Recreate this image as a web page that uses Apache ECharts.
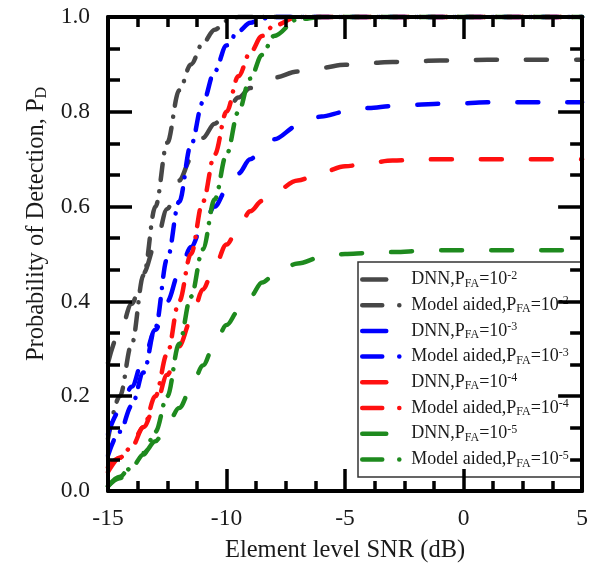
<!DOCTYPE html>
<html>
<head>
<meta charset="utf-8">
<script src="https://cdn.jsdelivr.net/npm/echarts@6/dist/echarts.min.js"></script>
<style>
  html, body { margin: 0; padding: 0; background: #ffffff; }
  #chart { width: 591px; height: 579px; }
</style>
</head>
<body>
<div id="chart"></div>
<script>
// Element-level SNR sample points (dB)
const snr = [-15, -14.5, -14, -13.5, -13, -12.5, -12, -11.5, -11, -10.5, -10, -9.5, -9, -8.5, -8,
             -7, -6, -5, -4, -3, -2, -1, 0, 1, 2, 3, 4, 5];

// Probability of detection, DNN detector
const dnnPfa2 = [0.27, 0.335, 0.395, 0.46, 0.52, 0.595, 0.655, 0.70, 0.745, 0.775, 0.80, 0.83, 0.85, 0.862, 0.872,
                 0.885, 0.893, 0.899, 0.903, 0.905, 0.907, 0.908, 0.909, 0.91, 0.91, 0.91, 0.91, 0.91];
const dnnPfa3 = [0.12, 0.17, 0.22, 0.28, 0.34, 0.40, 0.46, 0.515, 0.56, 0.60, 0.635, 0.67, 0.70, 0.72, 0.742,
                 0.77, 0.79, 0.80, 0.808, 0.812, 0.815, 0.817, 0.818, 0.82, 0.82, 0.82, 0.82, 0.82];
const dnnPfa4 = [0.04, 0.07, 0.10, 0.135, 0.18, 0.245, 0.305, 0.36, 0.425, 0.475, 0.52, 0.555, 0.59, 0.612, 0.63,
                 0.655, 0.672, 0.685, 0.692, 0.697, 0.699, 0.70, 0.70, 0.70, 0.70, 0.70, 0.70, 0.70];
const dnnPfa5 = [0.01, 0.03, 0.055, 0.08, 0.105, 0.14, 0.175, 0.215, 0.265, 0.31, 0.35, 0.38, 0.41, 0.44, 0.455,
                 0.48, 0.493, 0.50, 0.502, 0.504, 0.506, 0.508, 0.508, 0.508, 0.508, 0.508, 0.508, 0.508];

// Probability of detection, model-aided detector
const maPfa2 = [0.11, 0.20, 0.31, 0.455, 0.60, 0.735, 0.845, 0.90, 0.945, 0.973, 0.992, 1, 1, 1, 1,
                1, 1, 1, 1, 1, 1, 1, 1, 1, 1, 1, 1, 1];
const maPfa3 = [0.075, 0.125, 0.18, 0.25, 0.345, 0.49, 0.61, 0.73, 0.82, 0.885, 0.94, 0.97, 0.988, 0.997, 1,
                1, 1, 1, 1, 1, 1, 1, 1, 1, 1, 1, 1, 1];
const maPfa4 = [0.05, 0.07, 0.093, 0.135, 0.20, 0.29, 0.40, 0.50, 0.61, 0.71, 0.80, 0.875, 0.925, 0.96, 0.982,
                1, 1, 1, 1, 1, 1, 1, 1, 1, 1, 1, 1, 1];
const maPfa5 = [0.01, 0.027, 0.05, 0.077, 0.125, 0.20, 0.31, 0.41, 0.51, 0.615, 0.71, 0.80, 0.87, 0.92, 0.96,
                0.995, 1, 1, 1, 1, 1, 1, 1, 1, 1, 1, 1, 1];

// False-alarm exponents and colours per curve pair
const pfaExponents = ['-2', '-3', '-4', '-5'];
const curveColors = ['#474747', '#0000ff', '#ff1010', '#1e8a1e'];
const dnnCurves = [dnnPfa2, dnnPfa3, dnnPfa4, dnnPfa5];
const maCurves = [maPfa2, maPfa3, maPfa4, maPfa5];

const SERIF = '"Liberation Serif", "Times New Roman", serif';
const INK = '#1a1a1a';

const DNN_DASH = [21, 29];
const MA_DASH = [16, 11, 0.1, 11];

const series = [];
const legendData = [];
const legendRich = {};
pfaExponents.forEach((exp, i) => {
  const color = curveColors[i];
  const dnnName = 'DNN,PFA=10' + exp;
  const maName = 'Model aided,PFA=10' + exp;
  legendRich[dnnName] = 'DNN,P{sub|FA}=10{sup|' + exp + '}';
  legendRich[maName] = 'Model aided,P{sub|FA}=10{sup|' + exp + '}';
  series.push({
    name: dnnName, type: 'line', symbol: 'none', smooth: 0.35, smoothMonotone: 'x', clip: false,
    data: snr.map((x, k) => [x, dnnCurves[i][k]]),
    lineStyle: { color, width: 4.5, type: DNN_DASH, cap: 'round' },
    itemStyle: { color }
  });
  series.push({
    name: maName, type: 'line', symbol: 'none', smooth: 0.35, smoothMonotone: 'x', clip: false,
    data: snr.map((x, k) => [x, maCurves[i][k]]),
    lineStyle: { color, width: 4.5, type: MA_DASH, cap: 'round' },
    itemStyle: { color }
  });
  legendData.push({
    name: dnnName,
    itemStyle: { opacity: 0 },
    lineStyle: { type: [24, 40], cap: 'round', width: 4.5 }
  });
  legendData.push({
    name: maName,
    itemStyle: { opacity: 0 },
    lineStyle: { type: [20, 17, 0.1, 30], cap: 'round', width: 4.5 }
  });
});

const frameLine = { show: true, onZero: false, lineStyle: { color: '#000', width: 4 } };
function ticks(len) {
  return { show: true, inside: true, length: len, lineStyle: { color: '#000', width: 3.5 } };
}

const chart = echarts.init(document.getElementById('chart'), null, { renderer: 'canvas' });
chart.setOption({
  backgroundColor: '#ffffff',
  animation: false,
  grid: { left: 108, right: 5, top: 17, bottom: 88, containLabel: false },
  xAxis: [
    {
      type: 'value', position: 'bottom', min: -15, max: 5, interval: 5, z: 5,
      axisLine: frameLine,
      axisTick: ticks(22),
      minorTick: { show: true, splitNumber: 4, length: 10, lineStyle: { color: '#000', width: 3.5 } },
      splitLine: { show: false }, minorSplitLine: { show: false },
      axisLabel: { fontFamily: SERIF, fontSize: 23.5, color: INK, margin: 16 },
      name: 'Element level SNR (dB)', nameLocation: 'middle', nameGap: 47,
      nameTextStyle: { fontFamily: SERIF, fontSize: 24.5, color: INK }
    },
    {
      type: 'value', position: 'top', min: -15, max: 5, interval: 5, z: 5,
      axisLine: frameLine,
      axisTick: ticks(22),
      minorTick: { show: true, splitNumber: 4, length: 10, lineStyle: { color: '#000', width: 3.5 } },
      splitLine: { show: false }, minorSplitLine: { show: false },
      axisLabel: { show: false }
    }
  ],
  yAxis: [
    {
      type: 'value', position: 'left', min: 0, max: 1, interval: 0.2, z: 5,
      axisLine: frameLine,
      axisTick: ticks(24),
      minorTick: { show: true, splitNumber: 3, length: 12, lineStyle: { color: '#000', width: 3.5 } },
      splitLine: { show: false }, minorSplitLine: { show: false },
      axisLabel: { fontFamily: SERIF, fontSize: 23.5, color: INK, margin: 18, formatter: v => v.toFixed(1) },
      name: 'Probability of Detection, P{sub|D}', nameLocation: 'middle', nameGap: 57,
      nameTextStyle: {
        fontFamily: SERIF, fontSize: 24.5, color: INK, padding: [0, 0, 0, 60],
        rich: { sub: { fontFamily: SERIF, fontSize: 16, color: INK, padding: [11, 0, 0, 0] } }
      }
    },
    {
      type: 'value', position: 'right', min: 0, max: 1, interval: 0.2, z: 5,
      axisLine: frameLine,
      axisTick: ticks(24),
      minorTick: { show: true, splitNumber: 3, length: 12, lineStyle: { color: '#000', width: 3.5 } },
      splitLine: { show: false }, minorSplitLine: { show: false },
      axisLabel: { show: false }
    }
  ],
  legend: {
    orient: 'vertical', left: 358, top: 262, z: 3,
    itemWidth: 44, itemHeight: 14, itemGap: 5.7,
    padding: [7.5, 13, 7.5, 2],
    backgroundColor: '#ffffff', borderColor: '#333333', borderWidth: 1.5, borderRadius: 0,
    selectedMode: false,
    data: legendData,
    formatter: name => legendRich[name],
    textStyle: {
      fontFamily: SERIF, fontSize: 18, lineHeight: 18, color: INK,
      rich: {
        sub: { fontFamily: SERIF, fontSize: 12, lineHeight: 12, color: INK, padding: [8, 0, 0, 0] },
        sup: { fontFamily: SERIF, fontSize: 12, lineHeight: 12, color: INK, padding: [0, 0, 8, 0] }
      }
    }
  },
  series
});
</script>
</body>
</html>
